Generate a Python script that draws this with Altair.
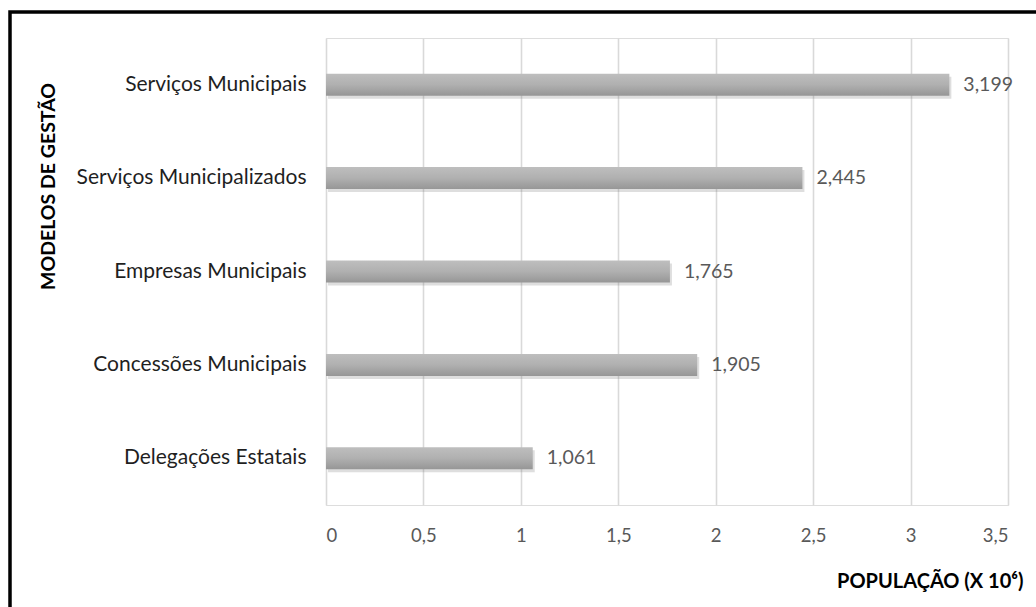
import altair as alt
import pandas as pd

# Population served per management model (millions)
modelos = [
    "Serviços Municipais",
    "Serviços Municipalizados",
    "Empresas Municipais",
    "Concessões Municipais",
    "Delegações Estatais",
]
populacao = [3.199, 2.445, 1.765, 1.905, 1.061]
x_ticks = [0, 0.5, 1, 1.5, 2, 2.5, 3, 3.5]

df = pd.DataFrame({"modelo": modelos, "pop": populacao})

FONT = "Lato"
W, H = 682, 467
PAD = {"left": 326, "top": 38, "right": 28, "bottom": 102}

y_enc = alt.Y(
    "modelo:N",
    sort=modelos,
    axis=alt.Axis(
        title="MODELOS DE GESTÃO",
        titleFont=FONT,
        titleFontSize=19.5,
        titleFontWeight="bold",
        titleColor="#000000",
        titleAngle=-90,
        titleX=-278,
        titleY=148,
        titleAlign="center",
        titleBaseline="middle",
        labelFont=FONT,
        labelFontSize=21,
        labelColor="#1f1f1f",
        labelPadding=20,
        labelLimit=400,
        ticks=False,
        domain=False,
        grid=False,
    ),
)

x_scale = alt.Scale(domain=[0, 3.5], nice=False)

base = alt.Chart(df)

shadow = base.mark_bar(
    size=22, color="#7a7a7a", opacity=0.25, xOffset=2, yOffset=3
).encode(x=alt.X("pop:Q", scale=x_scale), y=y_enc)

bars = base.mark_bar(
    size=22,
    color=alt.Gradient(
        gradient="linear",
        x1=0, y1=0, x2=0, y2=1,
        stops=[
            alt.GradientStop(offset=0, color="#bebebe"),
            alt.GradientStop(offset=0.5, color="#b0b0b0"),
            alt.GradientStop(offset=1, color="#969696"),
        ],
    ),
).encode(
    x=alt.X(
        "pop:Q",
        scale=x_scale,
        axis=alt.Axis(
            values=x_ticks,
            title="POPULAÇÃO (X 10⁶)",
            titleFont=FONT,
            titleFontSize=20,
            titleFontWeight="bold",
            titleColor="#000000",
            titleX=697,
            titleY=76,
            titleAlign="right",
            titleBaseline="middle",
            labelFont=FONT,
            labelFontSize=18.5,
            labelColor="#595959",
            labelPadding=21,
            labelExpr="replace(format(datum.value, '~g'), '.', ',')",
            ticks=False,
            domain=False,
            grid=True,
            gridColor="#d9d9d9",
            gridWidth=1.6,
        ),
    ),
    y=y_enc,
)

labels = base.transform_calculate(
    rotulo="replace(format(datum.pop, '.3f'), '.', ',')"
).mark_text(
    align="left", baseline="middle", dx=14, font=FONT, fontSize=19.5, color="#595959"
).encode(x=alt.X("pop:Q", scale=x_scale), y=y_enc, text="rotulo:N")

# Outer frame around the figure
frame = alt.Chart(pd.DataFrame({"k": [0]})).mark_rect(
    fill=None, stroke="#000000", strokeWidth=3.5
).encode(
    x=alt.value(10 - PAD["left"]),
    x2=alt.value(1200),
    y=alt.value(12 - PAD["top"]),
    y2=alt.value(800),
)

chart = (
    alt.layer(shadow, bars, labels, frame)
    .properties(width=W, height=H, autosize=alt.AutoSizeParams(type="none"), padding=PAD)
    .configure_view(stroke=None)
    .configure(background="white")
)

chart.save("out.html", embed_options={"renderer": "svg", "actions": False})
